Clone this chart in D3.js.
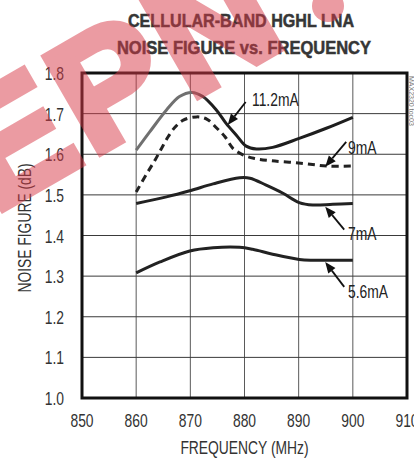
<!DOCTYPE html>
<html>
<head>
<meta charset="utf-8">
<script src="https://cdn.jsdelivr.net/npm/d3@7"></script>
<style>
  body { margin: 0; background: #fff; }
  svg { display: block; }
  text { font-family: "Liberation Sans", Arial, sans-serif; }
</style>
</head>
<body>
<div id="chart"></div>
<script>
// axis ticks
const xTicks = [850, 860, 870, 880, 890, 900, 910];
const yTicks = [1.0, 1.1, 1.2, 1.3, 1.4, 1.5, 1.6, 1.7, 1.8];

// curves (frequency MHz, noise figure dB)
const freq112 = [860, 862.5, 865.6, 868, 870.3, 872.3, 874.8, 876.6, 878.5, 880.3, 882.2, 885.2, 890.1, 895.1, 900];
const nf112   = [1.610, 1.655, 1.709, 1.742, 1.752, 1.742, 1.709, 1.676, 1.647, 1.620, 1.613, 1.617, 1.639, 1.664, 1.691];

const freq9 = [860, 862, 863.5, 864.7, 865.9, 867.2, 868.7, 871.2, 873.1, 874.9, 876.4, 877.9, 879.8, 881.7, 885, 890.4, 895.3, 900];
const nf9   = [1.507, 1.553, 1.586, 1.615, 1.643, 1.667, 1.684, 1.692, 1.686, 1.664, 1.643, 1.614, 1.598, 1.590, 1.584, 1.578, 1.571, 1.571];

const freq7 = [860, 865.6, 869.9, 874.2, 879.1, 881, 884, 887.1, 890.1, 892.6, 896.3, 900];
const nf7   = [1.479, 1.495, 1.510, 1.527, 1.542, 1.541, 1.524, 1.504, 1.481, 1.475, 1.477, 1.479];

const freq56 = [860, 864.4, 869.9, 874.2, 879.1, 881.5, 885.2, 890.1, 892.6, 896.3, 900];
const nf56   = [1.308, 1.335, 1.362, 1.370, 1.371, 1.366, 1.354, 1.341, 1.339, 1.339, 1.339];

// labels and the curve point each arrow touches
const annLabels = ["11.2mA", "9mA", "7mA", "5.6mA"];
const annFreq   = [876.9, 894.9, 894.9, 894.9];
const annNF     = [1.672, 1.569, 1.471, 1.335];

const width = 414, height = 458;
const margin = {top: 73, right: 7, bottom: 60, left: 82};
const squeeze = 0.77; // no narrow font installed, so squash Liberation Sans

const svg = d3.select("#chart").append("svg")
    .attr("width", width)
    .attr("height", height);

const x = d3.scaleLinear().domain([850, 910]).range([margin.left, width - margin.right]);
const y = d3.scaleLinear().domain([1.0, 1.8]).range([height - margin.bottom, margin.top]);

// condensed text helper
function narrowText(g, str, tx, ty, size, anchor, extra) {
  return g.append("text")
      .attr("transform", `translate(${tx},${ty}) ${extra || ""} scale(${squeeze},1)`)
      .attr("text-anchor", anchor)
      .attr("fill", "#333")
      .style("font-size", size + "px")
      .text(str);
}

// gradient: rising part of the 11.2mA trace prints grey
const defs = svg.append("defs");
const grad = defs.append("linearGradient")
    .attr("id", "g112")
    .attr("gradientUnits", "userSpaceOnUse")
    .attr("x1", x(860)).attr("x2", x(900)).attr("y1", 0).attr("y2", 0);
grad.append("stop").attr("offset", "0.28").attr("stop-color", "#707070");
grad.append("stop").attr("offset", "0.33").attr("stop-color", "#1e1e1e");

// grid
svg.append("g")
  .selectAll("line")
  .data(xTicks.slice(1, -1))
  .join("line")
    .attr("x1", d => x(d)).attr("x2", d => x(d))
    .attr("y1", y(1.8)).attr("y2", y(1.0))
    .attr("stroke", "#5a5a5a")
    .attr("stroke-width", 1);

svg.append("g")
  .selectAll("line")
  .data(yTicks.slice(1, -1))
  .join("line")
    .attr("x1", x(850)).attr("x2", x(910))
    .attr("y1", d => y(d)).attr("y2", d => y(d))
    .attr("stroke", "#3a3a3a")
    .attr("stroke-width", 1);

// frame
svg.append("rect")
    .attr("x", x(850)).attr("y", y(1.8))
    .attr("width", x(910) - x(850))
    .attr("height", y(1.0) - y(1.8))
    .attr("fill", "none")
    .attr("stroke", "#111")
    .attr("stroke-width", 3);

// tick labels
yTicks.forEach(d => narrowText(svg, d.toFixed(1), x(850) - 18, y(d) + 7, 18, "end"));
xTicks.forEach(d => narrowText(svg, d, x(d), y(1.0) + 29, 18, "middle"));

// axis titles
narrowText(svg, "FREQUENCY (MHz)", (x(850) + x(910)) / 2, 454, 18, "middle");
narrowText(svg, "NOISE FIGURE (dB)", 31, 228, 18, "middle", "rotate(-90)");

// chart title
const t1 = narrowText(svg, "CELLULAR-BAND HGHL LNA", 241, 27, 18, "middle")
    .style("font-weight", "bold").attr("fill", "#363636");
const t2 = narrowText(svg, "NOISE FIGURE vs. FREQUENCY", 244, 54, 18, "middle")
    .style("font-weight", "bold").attr("fill", "#363636");
// fit the heavy condensed title to its printed width
[[t1, 241, 27, 226], [t2, 244, 54, 254]].forEach(([t, tx, ty, w]) => {
  const k = w / t.node().getComputedTextLength();
  t.attr("transform", `translate(${tx},${ty}) scale(${k},1)`)
   .attr("stroke", "#363636").attr("stroke-width", 0.5);
});

// part number tag on the right edge
svg.append("text")
    .attr("transform", "translate(409,76) rotate(90)")
    .attr("fill", "#777")
    .style("font-size", "7px")
    .text("MAX2320 toc03");

// curves
const line = d3.line()
    .x(d => x(d[0]))
    .y(d => y(d[1]))
    .curve(d3.curveCatmullRom.alpha(0.5));

const series = [
  {f: freq112, v: nf112, stroke: "url(#g112)", dash: null},
  {f: freq9, v: nf9, stroke: "#222", dash: "7,5"},
  {f: freq7, v: nf7, stroke: "#222", dash: null},
  {f: freq56, v: nf56, stroke: "#222", dash: null}
];

svg.append("g")
  .selectAll("path")
  .data(series)
  .join("path")
    .attr("d", s => line(d3.zip(s.f, s.v)))
    .attr("fill", "none")
    .attr("stroke", s => s.stroke)
    .attr("stroke-width", 3)
    .attr("stroke-dasharray", s => s.dash);

// annotations: arrow from label down to the curve
const tails = [[18, -23], [21, -25], [19, 23], [19, 25]];
const textPos = [[252, 106], [348, 154], [348, 240], [348, 298]];

annLabels.forEach((lab, i) => {
  const tx = x(annFreq[i]), ty = y(annNF[i]);
  const sx = tx + tails[i][0], sy = ty + tails[i][1];
  const a = Math.atan2(ty - sy, tx - sx);
  const len = 11, hw = 4.5;
  const bx = tx - len * Math.cos(a), by = ty - len * Math.sin(a);

  svg.append("line")
      .attr("x1", sx).attr("y1", sy)
      .attr("x2", bx).attr("y2", by)
      .attr("stroke", "#111")
      .attr("stroke-width", 1.8);

  svg.append("path")
      .attr("d", `M${tx},${ty}L${bx + hw * Math.sin(a)},${by - hw * Math.cos(a)}L${bx - hw * Math.sin(a)},${by + hw * Math.cos(a)}Z`)
      .attr("fill", "#111");

  narrowText(svg, lab, textPos[i][0], textPos[i][1], 18, "start").attr("fill", "#222");
});

// watermark stamped over the chart (heavy letters, one translucent layer)
const wm = svg.append("g").attr("opacity", 0.5);
wm.append("text")
    .attr("transform", "translate(-6,214) rotate(-30)")
    .attr("fill", "#d83a48")
    .attr("stroke", "#d83a48")
    .attr("stroke-width", 8)
    .style("letter-spacing", "6px")
    .style("font-weight", "bold")
    .style("font-size", "160px")
    .text("EPN");
wm.append("circle")
    .attr("cx", 328).attr("cy", 6).attr("r", 16)
    .attr("fill", "#d83a48");
</script>
</body>
</html>
